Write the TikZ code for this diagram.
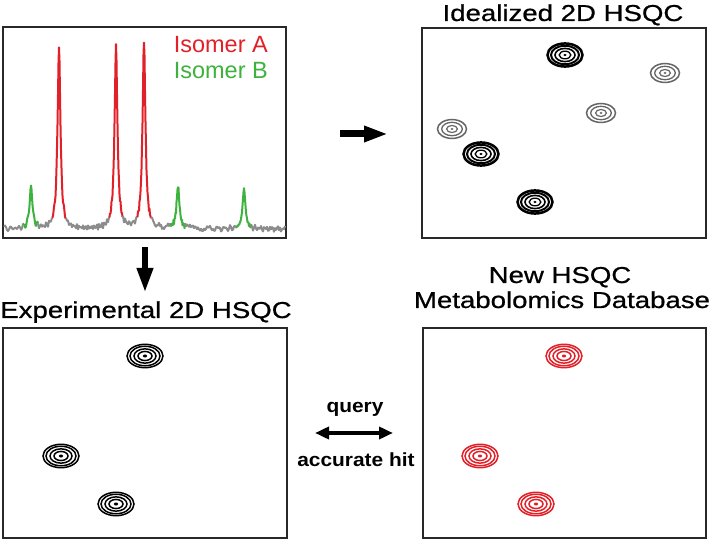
\documentclass[tikz,border=0pt]{standalone}
\usepackage{fontspec}
\setmainfont{Liberation Sans}
\newfontface\titlefont{Liberation Sans}[FakeBold=0.7]
\usepackage{graphicx}
\usetikzlibrary{arrows.meta}
\definecolor{specred}{RGB}{225,32,40}
\definecolor{specgreen}{RGB}{62,178,62}
\definecolor{noisegray}{RGB}{140,140,140}
\definecolor{framegray}{RGB}{40,40,40}
\newcommand\stretchtxt[1]{\scalebox{1.2}[1]{#1}}
\begin{document}
\begin{tikzpicture}[x=1pt,y=-1pt,
  declare function={
    nz(\t)=1.9*sin(mod(13*mod((\t/4)*(\t/4),360),360)+mod(\t*53.7,360))+1.3*sin(mod(\t*47.3,360)+mod(7*mod((\t/3)*(\t/5),360),360));
    pk(\t,\c,\h)=\h*0.03/(0.03+((\t-\c)/10)*((\t-\c)/10));
    spec(\t)=229+nz(\t)-pk(\t,31,42)-pk(\t,59,181)-pk(\t,116,181)-pk(\t,144,186)-pk(\t,178,42)-pk(\t,244,40);
  },
  panel/.style={draw=framegray,line width=1.5pt,inner sep=0pt,outer sep=0pt,fill=white},
  title/.style={font=\titlefont\fontsize{23}{27}\selectfont,anchor=base,inner sep=0pt},
  isotext/.style={font=\fontsize{23.5}{28}\selectfont,anchor=base east,inner sep=0pt},
  labeltext/.style={font=\bfseries\fontsize{19}{23}\selectfont,anchor=base,inner sep=0pt},
  specline/.style={line width=2pt,line join=round},
  darkspot/.pic={
    \foreach \r/\w in {17.5/2.5,14/2.0,10/1.6,5.8/1.3}
      \draw[line width=\w pt] (0,0) ellipse[x radius=\r,y radius=0.66*\r];
    \fill (0,0) ellipse[x radius=1.7,y radius=1.2];
  },
  grayspot/.pic={
    \foreach \r/\w in {14.5/1.5,10.3/1.3,5.4/1.2}
      \draw[black!60,line width=\w pt] (0,0) ellipse[x radius=\r,y radius=0.65*\r];
    \fill[black!60] (0,0) ellipse[x radius=1.5,y radius=1.1];
  },
  ringspot/.pic={
    \foreach \r in {18,15,11,7}
      \draw[line width=1.5pt] (0,0) ellipse[x radius=\r,y radius=0.65*\r];
    \fill (0,0) ellipse[x radius=2.2,y radius=1.5];
  },
]
\fill[white] (0,0) rectangle (713,540);
\useasboundingbox (0,0) rectangle (713,540);

% panels
\node[panel,minimum width=283pt,minimum height=211pt] (p1) at (144.5,132.5) {};
\node[panel,minimum width=284pt,minimum height=210pt] (p2) at (564,133) {};
\node[panel,minimum width=284pt,minimum height=210pt] (p3) at (145,433) {};
\node[panel,minimum width=283pt,minimum height=210pt] (p4) at (564.5,433) {};

% spectrum
\foreach \col/\a/\b/\n in {noisegray/4/24/21, specgreen/24/38/29, noisegray/38/52/15,
   specred/52/66/29, noisegray/66/109/44, specred/109/123/29, noisegray/123/137/15,
   specred/137/151/29, noisegray/151/171/21, specgreen/171/185/29, noisegray/185/237/53,
   specgreen/237/251/29, noisegray/251/285/35}
  \draw[\col,specline] plot[domain=\a:\b,samples=\n] (\x,{spec(\x)});

\node[isotext,text=specred] (isoA) at (268,53) {Isomer A};
\node[isotext,text=specgreen] (isoB) at (268,79) {Isomer B};

% titles
\node[title] (t2) at (563,21) {\stretchtxt{Idealized 2D HSQC}};
\node[title] (t3) at (146,318) {\stretchtxt{Experimental 2D HSQC}};
\node[title] (t4a) at (560,283) {\stretchtxt{New HSQC}};
\node[title] (t4b) at (562,308) {\stretchtxt{Metabolomics Database}};

% idealized spots
\pic at (565,55) {darkspot};
\pic at (481,154) {darkspot};
\pic at (535,202) {darkspot};
\pic at (665,73) {grayspot};
\pic at (601,113) {grayspot};
\pic at (452,129) {grayspot};

% experimental spots
\pic[color=black] at (145,356) {ringspot};
\pic[color=black] at (61,456) {ringspot};
\pic[color=black] at (116,504) {ringspot};

% database spots
\pic[color=specred] at (564,356) {ringspot};
\pic[color=specred] at (480,456) {ringspot};
\pic[color=specred] at (536,504) {ringspot};

% arrows
\coordinate (ra) at (340,134);
\coordinate (rb) at (388,134);
\draw[line width=7pt,-{Triangle[length=24pt,width=15pt]}] (ra) -- (rb);
\coordinate (da) at (145,247);
\coordinate (db) at (145,293);
\draw[line width=6.5pt,-{Triangle[length=25pt,width=15pt]}] (da) -- (db);
\coordinate (qa) at (315,433);
\coordinate (qb) at (393,433);
\draw[line width=4pt,{Triangle[length=14pt,width=12pt]}-{Triangle[length=14pt,width=12pt]}] (qa) -- (qb);

\node[labeltext] (q) at (355,413) {\scalebox{1.1}[1]{query}};
\node[labeltext] (h) at (356,466) {\scalebox{1.1}[1]{accurate hit}};
\end{tikzpicture}
\end{document}
